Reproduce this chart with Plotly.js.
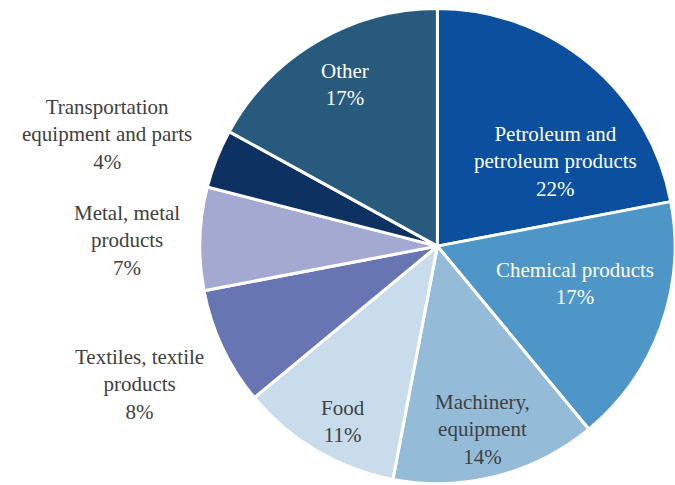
<!DOCTYPE html>
<html><head><meta charset="utf-8">
<script src="https://cdn.plot.ly/plotly-3.0.1.min.js"></script>
<style>html,body{margin:0;padding:0;background:#fff;}#chart{width:675px;height:485px;}</style>
</head><body><div id="chart"></div>
<script>
const categories = ["Petroleum and petroleum products", "Chemical products", "Machinery, equipment", "Food", "Textiles, textile products", "Metal, metal products", "Transportation equipment and parts", "Other"];
const displayLabels = ["Petroleum and<br>petroleum products", "Chemical products", "Machinery,<br>equipment", "Food", "Textiles, textile<br>products", "Metal, metal<br>products", "Transportation<br>equipment and parts", "Other"];
const values = [22, 17, 14, 11, 8, 7, 4, 17];
const colors = ["#0B4F9E", "#4E95C8", "#94BCD9", "#C8DCEC", "#6775B3", "#A4A9D1", "#0D3161", "#285A7E"];
const textColors = ["#ffffff", "#ffffff", "#404040", "#404040", "#404040", "#404040", "#404040", "#ffffff"];
// label centre positions (px from top-left)
const labelPos = [[555, 162], [575, 283], [483, 429], [343, 421], [139, 384], [127, 240], [107, 134], [345, 84]];

const W = 675, H = 485;
const total = values.reduce((a, b) => a + b, 0);
const annotations = displayLabels.map((l, i) => ({
  xref: "paper", yref: "paper",
  x: labelPos[i][0] / W, y: 1 - labelPos[i][1] / H,
  xanchor: "center", yanchor: "middle",
  showarrow: false,
  text: l + "<br>" + Math.round(values[i] / total * 100) + "%",
  font: {family: "Liberation Serif", size: 21, color: textColors[i]}
}));

Plotly.newPlot("chart", [{
  type: "pie",
  labels: categories,
  values: values,
  sort: false,
  direction: "clockwise",
  marker: {colors: colors, line: {color: "#ffffff", width: 3}},
  textinfo: "none",
  domain: {x: [0.296, 1], y: [0, 0.985]}
}], {
  width: W, height: H,
  margin: {l: 0, r: 0, t: 0, b: 0},
  showlegend: false,
  annotations: annotations
}, {staticPlot: true});
</script></body></html>
